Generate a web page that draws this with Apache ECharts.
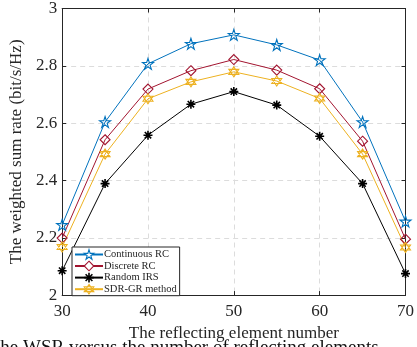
<!DOCTYPE html>
<html><head><meta charset="utf-8">
<script src="https://cdn.jsdelivr.net/npm/echarts@6/dist/echarts.min.js"></script>
<style>html,body{margin:0;padding:0;background:#fff}#c{width:417px;height:347px}</style>
</head><body><div id="c"></div>
<script>
const elements = [30, 35, 40, 45, 50, 55, 60, 65, 70];
const continuousRC = [2.245, 2.604, 2.807, 2.877, 2.908, 2.873, 2.820, 2.604, 2.257];
const discreteRC   = [2.199, 2.542, 2.719, 2.783, 2.822, 2.785, 2.720, 2.537, 2.195];
const randomIRS    = [2.085, 2.389, 2.558, 2.666, 2.710, 2.663, 2.554, 2.389, 2.075];
const sdrGR        = [2.168, 2.492, 2.685, 2.744, 2.779, 2.747, 2.686, 2.492, 2.166];
const xTicks = [30, 40, 50, 60, 70];
const yTicks = [2, 2.2, 2.4, 2.6, 2.8, 3];
const seriesNames = ['Continuous RC', 'Discrete RC', 'Random IRS', 'SDR-GR method'];
const colors = ['#0072BD', '#A2142F', '#000000', '#EDB120'];
const captionText = 'the WSR versus the number of reflecting elements';

const FONT = '"Liberation Serif", "DejaVu Serif", serif';
const star = 'path://M0,-1 L0.2245,-0.309 L0.951,-0.309 L0.363,0.118 L0.588,0.809 L0,0.382 L-0.588,0.809 L-0.363,0.118 L-0.951,-0.309 L-0.2245,-0.309 Z';
const diamond = 'path://M0,-1 L1,0 L0,1 L-1,0 Z';
const asterisk = 'path://M0,-1 L0,1 M-1,0 L1,0 M-0.707,-0.707 L0.707,0.707 M-0.707,0.707 L0.707,-0.707';
const hexagram = 'path://M0,-1 L0.866,0.5 L-0.866,0.5 Z M0,1 L0.866,-0.5 L-0.866,-0.5 Z';
const symbols = [star, diamond, asterisk, hexagram];
const sizes = [11, 10, 9, 10];
const datas = [continuousRC, discreteRC, randomIRS, sdrGR];

const chart = echarts.init(document.getElementById('c'), null, {renderer: 'canvas'});
const fmt = v => String(Math.round(v * 10) / 10);
const axisColor = '#262626';
const itemStyleFor = (i, fill) => ({
  color: i === 2 ? colors[i] : fill,
  borderColor: colors[i],
  borderWidth: i === 2 ? 1.6 : 1.1
});
const baseX = {
  type: 'value', min: xTicks[0], max: xTicks[xTicks.length - 1], interval: xTicks[1] - xTicks[0],
  axisLine: {show: true, onZero: false, lineStyle: {color: axisColor, width: 1}},
  axisTick: {show: true, inside: true, length: 4, lineStyle: {color: axisColor}},
  splitLine: {show: false}
};
const baseY = {
  type: 'value', min: yTicks[0], max: yTicks[yTicks.length - 1], interval: 0.2,
  axisLine: {show: true, onZero: false, lineStyle: {color: axisColor, width: 1}},
  axisTick: {show: true, inside: true, length: 4, lineStyle: {color: axisColor}},
  splitLine: {show: false}
};

chart.setOption({
  animation: false,
  grid: {left: 54, right: 6, top: 8, bottom: 48},
  xAxis: [
    Object.assign({}, baseX, {
      position: 'bottom',
      name: 'The reflecting element number', nameLocation: 'middle', nameGap: 22,
      nameTextStyle: {fontFamily: FONT, fontSize: 17, color: '#262626'},
      axisLabel: {fontFamily: FONT, fontSize: 17, color: '#262626', margin: 8, formatter: v => String(v)},
      splitLine: {show: true, lineStyle: {color: '#dcdcdc', type: [5, 4], width: 1}}
    }),
    Object.assign({}, baseX, {position: 'top', axisLabel: {show: false}})
  ],
  yAxis: [
    Object.assign({}, baseY, {
      position: 'left',
      name: 'The weighted sum rate (bit/s/Hz)', nameLocation: 'middle', nameGap: 21,
      nameTextStyle: {fontFamily: FONT, fontSize: 17, color: '#262626'},
      axisLabel: {fontFamily: FONT, fontSize: 17, color: '#262626', margin: 5, formatter: fmt},
      splitLine: {show: true, lineStyle: {color: '#dcdcdc', type: [5, 4], width: 1}}
    }),
    Object.assign({}, baseY, {position: 'right', axisLabel: {show: false}})
  ],
  legend: {
    left: 72, top: 247, orient: 'vertical',
    data: seriesNames.map((name, i) => ({name, itemStyle: itemStyleFor(i, '#ffffff')})),
    itemWidth: 28, itemHeight: 12, itemGap: 0.5,
    padding: [2, 3, 1, 2],
    borderColor: '#262626', borderWidth: 1, backgroundColor: '#fff',
    textStyle: {fontFamily: FONT, fontSize: 10.5, color: '#262626', padding: [0, 0, 0, -4]}
  },
  graphic: [{
    type: 'text', left: -5, top: 339, silent: true,
    style: {text: captionText, font: '19px ' + FONT, fill: '#111'}
  }],
  series: seriesNames.map((name, i) => ({
    name, type: 'line',
    data: elements.map((x, j) => [x, datas[i][j]]),
    symbol: symbols[i], symbolSize: sizes[i],
    showAllSymbol: true,
    color: colors[i],
    lineStyle: {color: colors[i], width: 1},
    itemStyle: itemStyleFor(i, 'rgba(255,255,255,0)'),
    emphasis: {disabled: true}
  }))
});
</script></body></html>
